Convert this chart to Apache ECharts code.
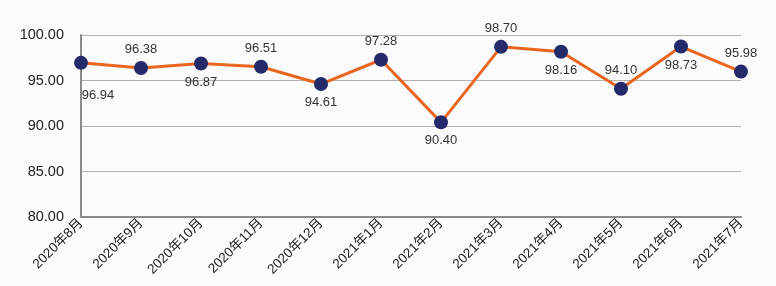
<!DOCTYPE html>
<html>
<head>
<meta charset="utf-8">
<script src="https://cdn.jsdelivr.net/npm/echarts@6/dist/echarts.min.js"></script>
<style>
  html, body { margin: 0; padding: 0; background: #fbfbfb; }
  #chart { width: 776px; height: 286px; }
</style>
</head>
<body>
<div id="chart"></div>
<script>
const months = ['2020年8月', '2020年9月', '2020年10月', '2020年11月', '2020年12月', '2021年1月',
  '2021年2月', '2021年3月', '2021年4月', '2021年5月', '2021年6月', '2021年7月'];
const values = [96.94, 96.38, 96.87, 96.51, 94.61, 97.28, 90.40, 98.70, 98.16, 94.10, 98.73, 95.98];

const font = 'Liberation Sans, Arial, Noto Sans CJK SC, sans-serif';

const chart = echarts.init(document.getElementById('chart'));

// labels alternate below / above, like the original
const seriesData = values.map((v, i) => {
  const below = i % 2 === 0;
  return {
    value: v,
    label: {
      position: below ? 'bottom' : 'top',
      offset: i === 0 ? [17, 14] : [0, 0]
    }
  };
});

chart.setOption({
  backgroundColor: '#fbfbfb',
  animation: false,
  grid: { left: 81, right: 35, top: 35, bottom: 69 },
  xAxis: {
    type: 'category',
    data: months,
    boundaryGap: false,
    axisLine: { lineStyle: { color: '#8a8a8a', width: 2 } },
    axisTick: { show: false },
    axisLabel: {
      rotate: 45,
      color: '#1a1a1a',
      fontSize: 13.5,
      fontFamily: font,
      margin: 4,
      interval: 0
    }
  },
  yAxis: {
    type: 'value',
    min: 80,
    max: 100,
    interval: 5,
    axisLine: { show: true, lineStyle: { color: '#8a8a8a', width: 2 } },
    axisTick: { show: false },
    splitLine: { lineStyle: { color: '#b5b0ad', width: 1 } },
    axisLabel: {
      color: '#222',
      fontSize: 14.5,
      fontFamily: font,
      margin: 17,
      formatter: v => v.toFixed(2)
    }
  },
  series: [{
    type: 'line',
    data: seriesData,
    symbol: 'circle',
    symbolSize: 14,
    lineStyle: { color: '#e8661f', width: 3 },
    itemStyle: { color: '#252a6b' },
    label: {
      show: true,
      distance: 5,
      color: '#333',
      fontSize: 13,
      fontFamily: font,
      formatter: p => p.value.toFixed(2)
    }
  }]
});
</script>
</body>
</html>
